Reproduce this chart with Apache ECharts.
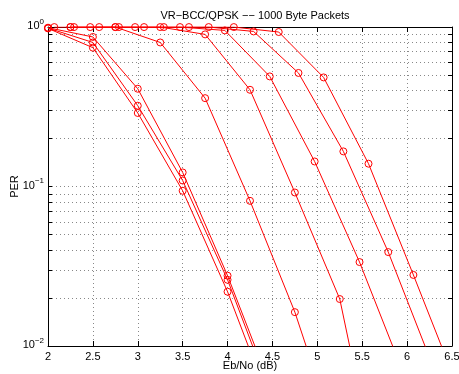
<!DOCTYPE html>
<html>
<head>
<meta charset="utf-8">
<script src="https://cdn.jsdelivr.net/npm/echarts@6/dist/echarts.min.js"></script>
<style>
html,body{margin:0;padding:0;background:#fff;}
#chart{width:459px;height:374px;}
</style>
</head>
<body>
<div id="chart"></div>
<script>
// ---- data (Eb/No in dB, PER) ----
const titleText = 'VR\u2212BCC/QPSK \u2212\u2212 1000 Byte Packets';
const xLabel = 'Eb/No (dB)';
const yLabel = 'PER';
const xTicks = [2, 2.5, 3, 3.5, 4, 4.5, 5, 5.5, 6, 6.5];
const yMajor = [0.01, 0.1, 1];

const ebA  = [2, 2.5, 3, 3.5, 4, 4.5];
const perA1 = [0.99, 0.866, 0.41, 0.1225, 0.0276, 0.0052];
const perA2 = [0.985, 0.80, 0.321, 0.109, 0.026, 0.0047];
const perA3 = [0.98, 0.742, 0.289, 0.094, 0.0219, 0.004];

const eb4  = [2.25, 2.75, 3.25, 3.75, 4.25, 4.75, 5.25];
const per4 = [0.999, 0.999, 0.80, 0.358, 0.0813, 0.0163, 0.0023];

const eb5  = [2.25, 2.75, 3.25, 3.75, 4.25, 4.75, 5.25, 5.75];
const per5 = [0.999, 0.999, 0.999, 0.899, 0.404, 0.0917, 0.0197, 0.0009];

const eb6  = [2.47, 2.97, 3.47, 3.97, 4.47, 4.97, 5.47, 5.97];
const per6 = [0.999, 0.999, 0.999, 0.952, 0.49, 0.1435, 0.0336, 0.0065];

const eb7  = [2.29, 2.79, 3.29, 3.79, 4.29, 4.79, 5.29, 5.79, 6.29];
const per7 = [0.999, 0.999, 0.999, 0.999, 0.938, 0.515, 0.166, 0.0388, 0.0074];

const eb8  = [2.07, 2.57, 3.07, 3.57, 4.07, 4.57, 5.07, 5.57, 6.07, 6.57];
const per8 = [0.999, 0.999, 0.999, 0.999, 0.999, 0.93, 0.483, 0.139, 0.0279, 0.0054];

const curves = [
  [ebA, perA1], [ebA, perA2], [ebA, perA3],
  [eb4, per4], [eb5, per5], [eb6, per6], [eb7, per7], [eb8, per8]
];

// minor + major tick values of the log axis
const yTickVals = [];
for (let d = 0.01; d < 1.5; d *= 10) {
  for (let m = 1; m <= 9; m++) {
    const v = +(m * d).toPrecision(3);
    if (v <= 1) yTickVals.push(v);
  }
}

const FONT = '"Liberation Sans", Arial, Helvetica, sans-serif';
const RED = '#ff0000';

const series = curves.map(function (c) {
  return {
    type: 'line',
    data: c[0].map(function (x, i) { return [x, c[1][i]]; }),
    symbol: 'circle',
    symbolSize: 7,
    clip: true,
    lineStyle: { color: RED, width: 1 },
    itemStyle: { color: 'rgba(0,0,0,0)', borderColor: RED, borderWidth: 1 },
    emphasis: { disabled: true },
    animation: false,
    z: 5
  };
});

function supLabel(v) {
  const e = Math.round(Math.log10(v));
  const s = e < 0 ? '\u2212' + (-e) : String(e);
  return '{b|10}{s|' + s + '}';
}

const gridLine = { show: true, lineStyle: { color: '#888', width: 1, type: [1, 3] } };

const chart = echarts.init(document.getElementById('chart'), null, { renderer: 'canvas' });
chart.setOption({
  animation: false,
  backgroundColor: '#fff',
  title: {
    text: titleText,
    left: 250,
    textAlign: 'center',
    top: 5,
    textStyle: { fontFamily: FONT, fontSize: 11, fontWeight: 'normal', color: '#000' }
  },
  grid: { left: 48, right: 7, top: 27, bottom: 28, containLabel: false, outerBoundsMode: 'none' },
  xAxis: [{
    type: 'value', min: 2, max: 6.5, interval: 0.5, position: 'bottom',
    name: xLabel, nameLocation: 'middle', nameGap: 14, nameMoveOverlap: false,
    nameTextStyle: { fontFamily: FONT, fontSize: 11, color: '#000' },
    axisLine: { show: true, onZero: false, lineStyle: { color: '#000', width: 1 } },
    axisTick: { show: true, inside: true, length: 5, lineStyle: { color: '#000' } },
    axisLabel: { fontFamily: FONT, fontSize: 11, color: '#000', margin: 5 },
    splitLine: gridLine
  }, {
    type: 'value', min: 2, max: 6.5, interval: 0.5, position: 'top',
    axisLine: { show: true, onZero: false, lineStyle: { color: '#000', width: 1 } },
    axisTick: { show: true, inside: true, length: 5, lineStyle: { color: '#000' } },
    axisLabel: { show: false },
    splitLine: { show: false }
  }],
  yAxis: [{
    type: 'log', logBase: 10, min: 0.01, max: 1, position: 'left',
    name: yLabel, nameLocation: 'middle', nameGap: 28, nameRotate: 90, nameMoveOverlap: false,
    nameTextStyle: { fontFamily: FONT, fontSize: 11, color: '#000' },
    axisLine: { show: true, onZero: false, lineStyle: { color: '#000', width: 1 } },
    axisTick: { show: true, inside: true, length: 4, customValues: yTickVals, lineStyle: { color: '#000' } },
    axisLabel: {
      customValues: yMajor,
      margin: 4,
      formatter: supLabel,
      rich: {
        b: { fontFamily: FONT, fontSize: 11, color: '#000', padding: [3, 0, 5, 0], verticalAlign: 'bottom' },
        s: { fontFamily: FONT, fontSize: 8, color: '#000', verticalAlign: 'top' }
      }
    },
    splitLine: gridLine
  }, {
    type: 'log', logBase: 10, min: 0.01, max: 1, position: 'right',
    axisLine: { show: true, onZero: false, lineStyle: { color: '#000', width: 1 } },
    axisTick: { show: true, inside: true, length: 4, customValues: yTickVals, lineStyle: { color: '#000' } },
    axisLabel: { show: false },
    splitLine: { show: false }
  }],
  series: series
});
</script>
</body>
</html>
